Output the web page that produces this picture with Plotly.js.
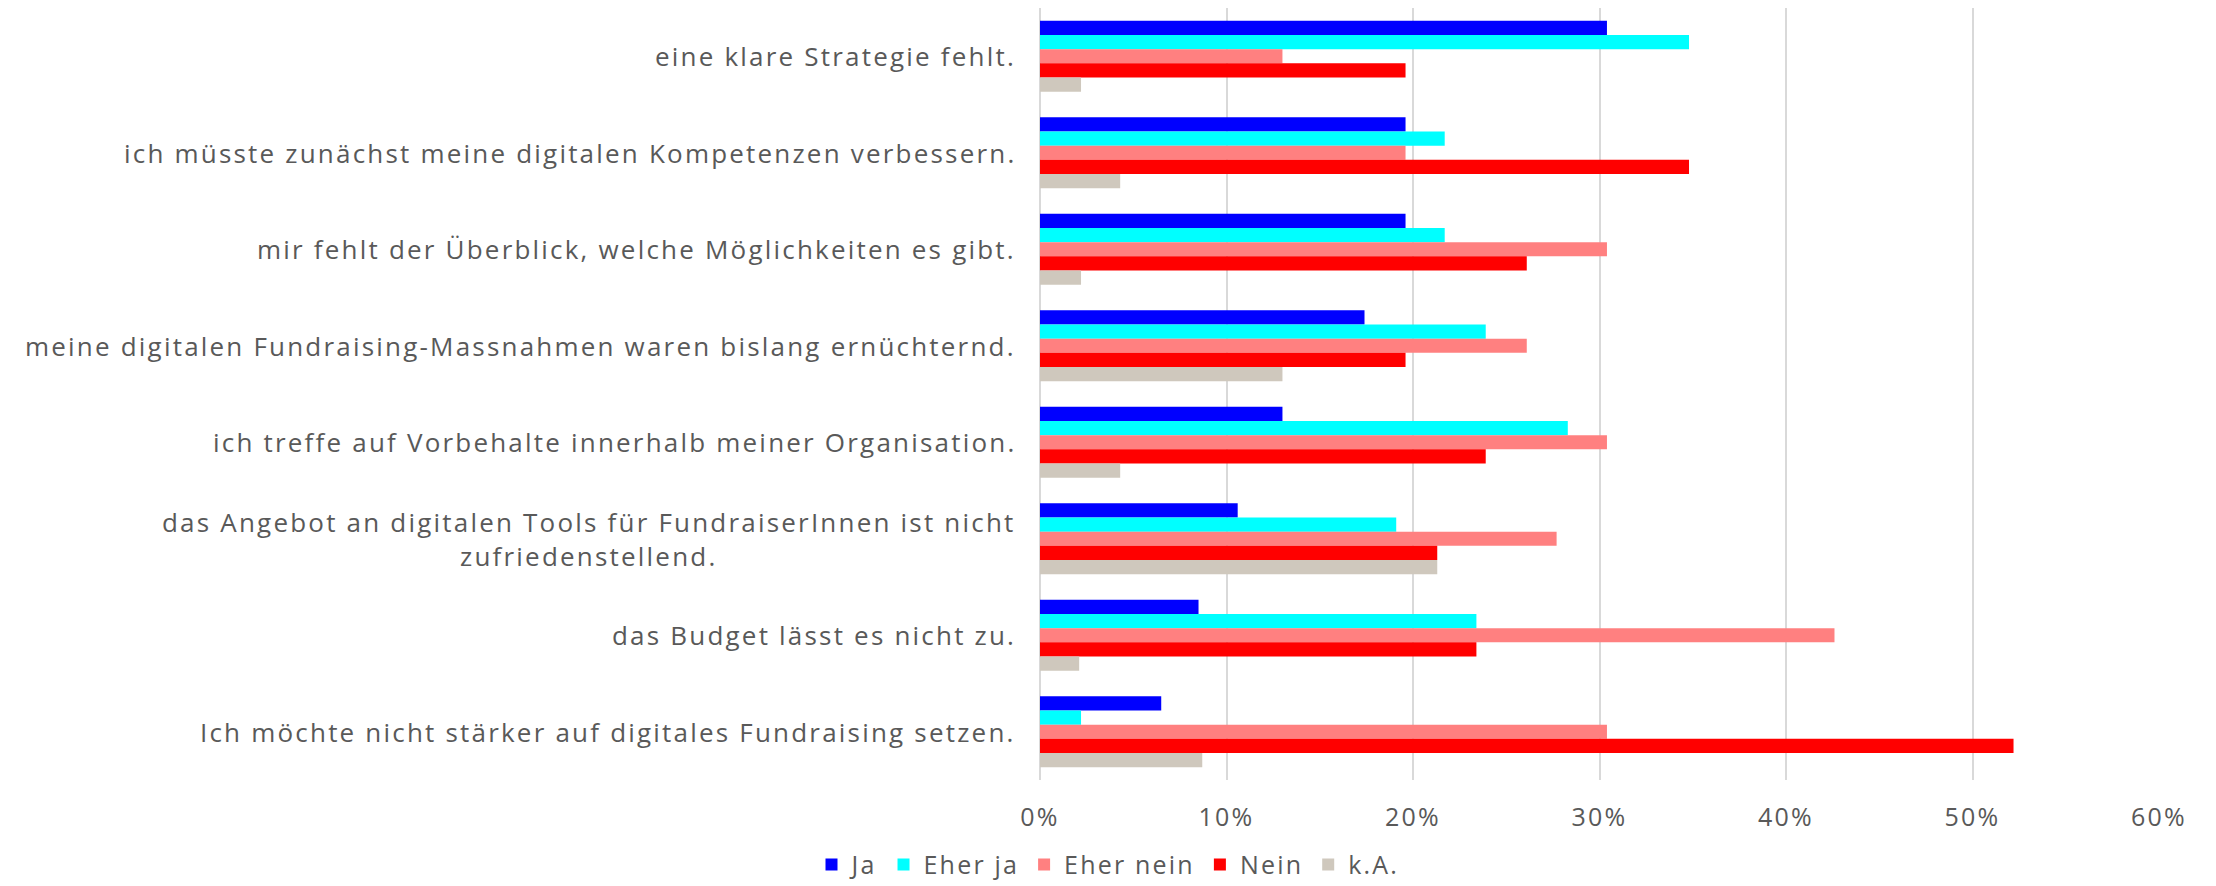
<!DOCTYPE html>
<html><head><meta charset="utf-8">
<script src="https://cdn.plot.ly/plotly-3.0.1.min.js"></script>
<style>html,body{margin:0;padding:0;background:#fff} svg text{letter-spacing:2.2px}</style>
</head><body><div id="chart" style="width:2216px;height:886px"></div>
<script>
const categories = [
  'eine klare Strategie fehlt.',
  'ich müsste zunächst meine digitalen Kompetenzen verbessern.',
  'mir fehlt der Überblick, welche Möglichkeiten es gibt.',
  'meine digitalen Fundraising-Massnahmen waren bislang ernüchternd.',
  'ich treffe auf Vorbehalte innerhalb meiner Organisation.',
  'das Angebot an digitalen Tools für FundraiserInnen ist nicht<br>zufriedenstellend.',
  'das Budget lässt es nicht zu.',
  'Ich möchte nicht stärker auf digitales Fundraising setzen.'
];
const seriesNames = ['Ja', 'Eher ja', 'Eher nein', 'Nein', 'k.A.'];
const ja       = [0.304, 0.196, 0.196, 0.174, 0.130, 0.106, 0.085, 0.065];
const eherJa   = [0.348, 0.217, 0.217, 0.239, 0.283, 0.191, 0.234, 0.022];
const eherNein = [0.130, 0.196, 0.304, 0.261, 0.304, 0.277, 0.426, 0.304];
const nein     = [0.196, 0.348, 0.261, 0.196, 0.239, 0.213, 0.234, 0.522];
const kA       = [0.022, 0.043, 0.022, 0.130, 0.043, 0.213, 0.021, 0.087];
const xTicks   = [0, 0.1, 0.2, 0.3, 0.4, 0.5, 0.6];

const series = [ja, eherJa, eherNein, nein, kA];
const colors = ['#0000FF', '#00FFFF', '#FF8080', '#FF0000', '#CFC8BD'];
const textColor = '#595959';
const fontFamily = '"Open Sans", "Liberation Sans", sans-serif';

const traces = series.map((vals, i) => ({
  type: 'bar',
  orientation: 'h',
  name: seriesNames[i],
  x: vals,
  y: categories,
  marker: { color: colors[i], line: { width: 0 } },
  hoverinfo: 'x+name'
}));

const annotations = categories.map(c => ({
  text: c,
  xref: 'paper', yref: 'y',
  x: 0, y: c,
  xanchor: 'right', yanchor: 'middle',
  xshift: -22,
  align: c.indexOf('<br>') >= 0 ? 'center' : 'right',
  showarrow: false,
  font: { family: fontFamily, size: 26, color: textColor }
}));

const layout = {
  width: 2216, height: 886,
  paper_bgcolor: '#ffffff', plot_bgcolor: '#ffffff',
  margin: { l: 1040, r: 57, t: 8, b: 106 },
  barmode: 'group',
  bargap: 0.265,
  bargroupgap: 0,
  font: { family: fontFamily, size: 25, color: textColor },
  xaxis: {
    range: [0, 0.6],
    tickvals: xTicks,
    tickformat: '.0%',
    showgrid: true, gridcolor: '#D9D9D9', gridwidth: 1.5,
    zeroline: true, zerolinecolor: '#D9D9D9', zerolinewidth: 1.5,
    showline: false, ticks: '',
    ticklabelstandoff: 20,
    tickfont: { family: fontFamily, size: 25, color: textColor },
    fixedrange: true
  },
  yaxis: {
    type: 'category',
    autorange: 'reversed',
    showticklabels: false,
    showgrid: false, zeroline: false, showline: false, ticks: '',
    fixedrange: true
  },
  showlegend: true,
  legend: {
    orientation: 'h',
    xref: 'container', yref: 'container',
    x: 0.5, xanchor: 'center',
    y: 0.024, yanchor: 'middle',
    traceorder: 'normal',
    font: { family: fontFamily, size: 25, color: textColor },
    itemwidth: 30,
    bgcolor: 'rgba(0,0,0,0)'
  },
  annotations: annotations
};

Plotly.newPlot('chart', traces, layout, { displayModeBar: false, staticPlot: false });
</script>
</body></html>
